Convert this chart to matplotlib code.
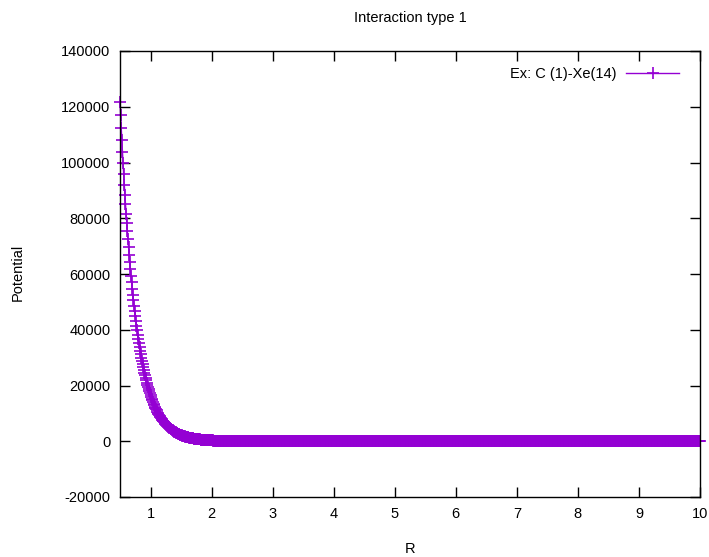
import numpy as np
import matplotlib
matplotlib.use("Agg")
import matplotlib.pyplot as plt

plt.rcParams['font.family'] = ['Liberation Sans', 'DejaVu Sans']

# R grid: 0.50 .. 10.00 in steps of 0.01 (as plotted)
r_values = np.round(np.arange(50, 1001) / 100.0, 2)

# Potential values, R = 0.50 .. 2.49 (step 0.01)
potential_head = [
    121800, 117000, 112400, 108000, 103800, 99700, 95800, 92060, 88450, 84980,
    81650, 78440, 75370, 72410, 69570, 66850, 64220, 61710, 59290, 56960,
    54730, 52580, 50520, 48540, 46640,
    44810, 43050, 41360, 39740, 38180, 36690, 35250, 33870, 32540, 31260,
    30040, 28860, 27730, 26640, 25600, 24590, 23630, 22700, 21810, 20960,
    20130, 19340, 18590, 17860, 17160,
    16480, 15840, 15220, 14620, 14050, 13500, 12970, 12460, 11970, 11500,
    11050, 10620, 10200, 9800, 9420, 9050, 8690, 8350, 8020, 7710,
    7410, 7120, 6840, 6570, 6310,
    6064, 5826, 5598, 5378, 5167, 4965, 4770, 4583, 4403, 4231,
    4065, 3905, 3752, 3605, 3464, 3328, 3198, 3072, 2952, 2836,
    2725, 2618, 2515, 2417, 2322,
    2231, 2143, 2059, 1979, 1901, 1827, 1755, 1686, 1620, 1557,
    1495, 1437, 1380, 1326, 1274, 1224, 1176, 1130, 1086, 1043,
    1002, 963, 925, 889, 854,
    821, 789, 758, 728, 700, 672, 646, 620, 596, 573,
    550, 528, 508, 488, 469, 450, 433, 416, 400, 384,
    369, 354, 340, 327, 314,
    302, 290, 279, 268, 257, 247, 237, 228, 219, 211,
    202, 194, 187, 179, 172, 166, 159, 153, 147, 141,
    136, 130, 125, 120, 116,
    111, 107, 103, 99, 95, 91, 87, 84, 81, 77,
    74, 72, 69, 66, 63, 61, 59, 56, 54, 52,
    50, 48, 46, 44, 42,
]
# R = 2.50 .. 10.00: every point reads as 0 on this scale
potential_tail_value = 0
potential = potential_head + [potential_tail_value] * (len(r_values) - len(potential_head))

series_label = "Ex: C (1)-Xe(14)"
title = "Interaction type 1"
xlabel = "R"
ylabel = "Potential"
xticks = [1, 2, 3, 4, 5, 6, 7, 8, 9, 10]
yticks = [-20000, 0, 20000, 40000, 60000, 80000, 100000, 120000, 140000]

color = "#9400D3"

fig = plt.figure(figsize=(7.09, 5.57), dpi=100)
ax = fig.add_axes([120/709, 1-497/557, 580/709, 446/557])

ax.plot(r_values, potential, color=color, lw=1.0, marker='+', ms=8.6, mew=1.2,
        label=series_label, clip_on=False)

ax.set_xlim(0.5, 10)
ax.set_ylim(-20000, 140000)
ax.set_xticks(xticks)
ax.set_yticks(yticks)
ax.set_xticklabels([str(t) for t in xticks])
ax.set_yticklabels([str(t) for t in yticks])

ax.tick_params(direction='in', length=7.2, width=1.0, top=True, right=True,
               labelsize=10.5, pad=7, colors='black')
for s in ax.spines.values():
    s.set_linewidth(1.0)
    s.set_color('black')

fig.text(410/709, 1-18/557, title, ha='center', va='center', fontsize=10.5)
fig.text(410/709, 1-549/557, xlabel, ha='center', va='center', fontsize=10.5)
fig.text(18/709, 1-272/557, ylabel, ha='center', va='center', rotation=90, fontsize=10.5)

leg = ax.legend(loc='upper right', frameon=False, markerfirst=False,
                bbox_to_anchor=((679-120)/580, (497-67)/446),
                borderpad=0, borderaxespad=0, handlelength=3.6,
                handletextpad=0.7, fontsize=10.5)

fig.savefig("out.png", dpi=100)
